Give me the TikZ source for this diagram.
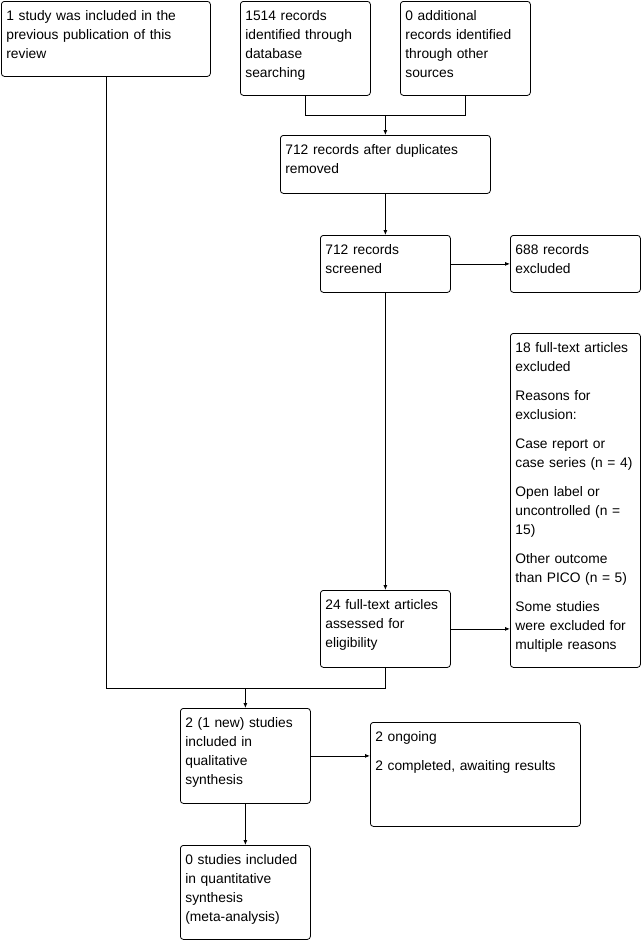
\documentclass[tikz,border=0pt]{standalone}
\usepackage{fontspec}
\setmainfont{Liberation Sans}
\usetikzlibrary{arrows.meta,positioning,calc}

\begin{document}
\begin{tikzpicture}[
  x=1pt, y=-1pt,
  box/.style={draw, line width=0.8pt, rounded corners=3pt, anchor=north west, align=left,
    inner xsep=5pt, inner ysep=6pt, text height=13pt, font=\fontsize{13.8}{19}\selectfont},
  arr/.style={-{Latex[length=5pt,width=4pt]}, line width=0.8pt},
  lin/.style={line width=0.8pt},
]
\useasboundingbox (0,0) rectangle (643,940);

\node[box, text width=199pt, text depth=50pt] (prev) at (1,1) {1 study was included in the\\previous publication of this\\review};
\node[box, text width=120pt, text depth=69pt] (db) at (240,1) {1514 records\\identified through\\database\\searching};
\node[box, text width=120pt, text depth=69pt] (other) at (400,1) {0 additional\\records identified\\through other\\sources};
\node[box, text width=200pt, text depth=33pt] (dup) at (280,135) {712 records after duplicates\\removed};
\node[box, text width=120pt, text depth=32pt] (screen) at (320,235) {712 records\\screened};
\node[box, text width=120pt, text depth=32pt] (excl) at (510,235) {688 records\\excluded};
\node[box, text width=120pt, text depth=309pt] (ftexcl) at (510,333) {18 full-text articles\\excluded\\[10pt]Reasons for\\exclusion:\\[10pt]Case report or\\case series (n = 4)\\[10pt]Open label or\\uncontrolled (n =\\15)\\[10pt]Other outcome\\than PICO (n = 5)\\[10pt]Some studies\\were excluded for\\multiple reasons};
\node[box, text width=120pt, text depth=52pt] (elig) at (320,590) {24 full-text articles\\assessed for\\eligibility};
\node[box, text width=120pt, text depth=70pt] (qual) at (180,708) {2 (1 new) studies\\included in\\qualitative\\synthesis};
\node[box, text width=200pt, text depth=79pt] (ongo) at (370,722) {2 ongoing\\[10pt]2 completed, awaiting results};
\node[box, text width=120pt, text depth=69pt] (quant) at (180,845) {0 studies included\\in quantitative\\synthesis\\(meta-analysis)};

% merge points above the boxes they feed
\coordinate (join) at ($(dup.north)+(0,-20)$);
\coordinate (join2) at ($(qual.north)+(0,-20)$);

\draw[lin] (db.south) |- (join);
\draw[lin] (other.south) |- (join);
\draw[arr] (join) -- (dup.north);
\draw[arr] (dup) -- (screen);
\draw[arr] (screen) -- (excl);
\draw[arr] (screen) -- (elig);
\draw[arr] (elig.east) -- (elig.east -| ftexcl.west);
\draw[lin] (prev.south) |- (join2);
\draw[lin] (elig.south) |- (join2);
\draw[arr] (join2) -- (qual.north);
\draw[arr] (qual.east) -- (qual.east -| ongo.west);
\draw[arr] (qual) -- (quant);
\end{tikzpicture}
\end{document}
